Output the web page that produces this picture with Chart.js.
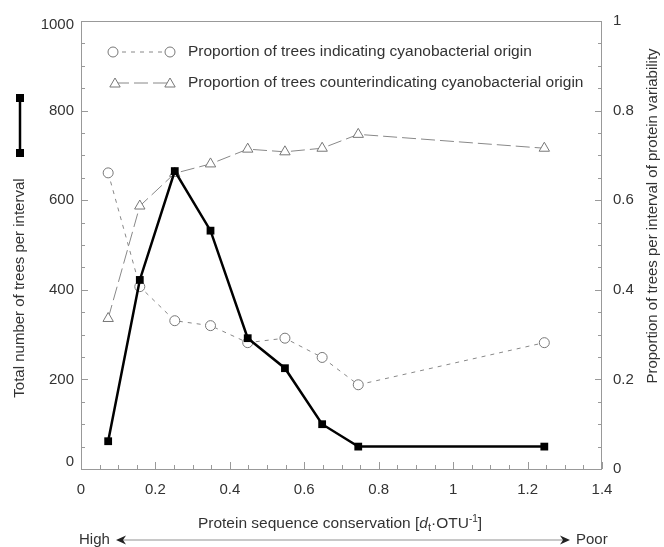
<!DOCTYPE html>
<html>
<head>
<meta charset="utf-8">
<script src="https://cdn.jsdelivr.net/npm/chart.js@4.4.0/dist/chart.umd.min.js"></script>
<style>
  html, body { margin: 0; padding: 0; background: #fff; }
</style>
</head>
<body>
<canvas id="trees_chart" width="664" height="547"></canvas>
<script>
// interval centres of protein variability (dt per OTU)
const intervalX = [0.073, 0.158, 0.252, 0.348, 0.448, 0.548, 0.648, 0.745, 1.245];
// total number of trees per interval (left axis)
const totalTrees = [62, 422, 665, 532, 292, 225, 100, 50, 50];
// proportions (right axis)
const propIndicating = [0.661, 0.407, 0.331, 0.320, 0.282, 0.292, 0.249, 0.188, 0.282];
const propCounter = [0.336, 0.587, 0.660, 0.681, 0.714, 0.708, 0.716, 0.747, 0.716];

const xTickLabels = ["0", "0.2", "0.4", "0.6", "0.8", "1", "1.2", "1.4"];
// 0 and 1000 on the left axis are nudged inward, drawn by the decor plugin
const leftTickLabels = ["200", "400", "600", "800"];
const leftEndLabels = ["0", "1000"];
const rightTickLabels = ["0", "0.2", "0.4", "0.6", "0.8", "1"];

const legendLabels = [
    "Proportion of trees indicating cyanobacterial origin",
    "Proportion of trees counterindicating cyanobacterial origin"
];

const FONT = "'Liberation Sans', Arial, Helvetica, sans-serif";
const TEXT = "#333";
const AXIS = "#999";

function pts(ys) {
    return intervalX.map((x, i) => ({ x: x, y: ys[i] }));
}

function pick(list) {
    return function (v) {
        const s = String(Math.round(v * 100) / 100);
        return list.indexOf(s) >= 0 ? s : "";
    };
}

function drawTri(ctx, x, y, r) {
    ctx.beginPath();
    ctx.moveTo(x, y - r);
    ctx.lineTo(x - r * 0.866, y + r * 0.5);
    ctx.lineTo(x + r * 0.866, y + r * 0.5);
    ctx.closePath();
    ctx.fill();
    ctx.stroke();
}

const decor = {
    id: "decor",
    afterDraw(chart) {
        const ctx = chart.ctx;
        const a = chart.chartArea;
        ctx.save();

        // frame
        ctx.strokeStyle = AXIS;
        ctx.lineWidth = 1;
        ctx.setLineDash([]);
        ctx.strokeRect(a.left + 0.5, a.top + 0.5, a.right - a.left - 1, a.bottom - a.top);

        // inward ticks
        const sx = chart.scales.x, sy = chart.scales.y, sy1 = chart.scales.y1;
        ctx.beginPath();
        sx.ticks.forEach(t => {
            const p = Math.round(sx.getPixelForValue(t.value)) + 0.5;
            const len = Math.round(t.value * 100) % 20 === 0 ? 7 : 4;
            ctx.moveTo(p, a.bottom);
            ctx.lineTo(p, a.bottom - len);
        });
        sy.ticks.forEach(t => {
            const p = Math.round(sy.getPixelForValue(t.value)) + 0.5;
            const len = t.value % 200 === 0 ? 7 : 4;
            ctx.moveTo(a.left, p);
            ctx.lineTo(a.left + len, p);
        });
        sy1.ticks.forEach(t => {
            const p = Math.round(sy1.getPixelForValue(t.value)) + 0.5;
            const len = Math.round(t.value * 100) % 20 === 0 ? 7 : 4;
            ctx.moveTo(a.right, p);
            ctx.lineTo(a.right - len, p);
        });
        ctx.stroke();

        // left axis end labels, pulled inside the axis range
        ctx.fillStyle = TEXT;
        ctx.font = "15px " + FONT;
        ctx.textAlign = "right";
        ctx.textBaseline = "middle";
        ctx.fillText(leftEndLabels[0], a.left - 7, sy.getPixelForValue(0) - 7);
        ctx.fillText(leftEndLabels[1], a.left - 7, sy.getPixelForValue(1000) + 4);

        // legend inside plot
        ctx.strokeStyle = "#888";
        ctx.fillStyle = "#fff";
        ctx.setLineDash([4, 5]);
        ctx.beginPath(); ctx.moveTo(113, 52); ctx.lineTo(170, 52); ctx.stroke();
        ctx.setLineDash([14, 5]);
        ctx.beginPath(); ctx.moveTo(115, 83); ctx.lineTo(170, 83); ctx.stroke();
        ctx.setLineDash([]);
        ctx.strokeStyle = "#777";
        [113, 170].forEach(x => {
            ctx.beginPath(); ctx.arc(x, 52, 5, 0, Math.PI * 2); ctx.fill(); ctx.stroke();
        });
        [115, 170].forEach(x => drawTri(ctx, x, 84, 6));

        ctx.fillStyle = TEXT;
        ctx.font = "15.5px " + FONT;
        ctx.textAlign = "left";
        ctx.fillText(legendLabels[0], 188, 52);
        ctx.fillText(legendLabels[1], 188, 83);

        // left series key (square - line - square)
        ctx.strokeStyle = "#000";
        ctx.lineWidth = 2.5;
        ctx.beginPath(); ctx.moveTo(20, 98); ctx.lineTo(20, 153); ctx.stroke();
        ctx.fillStyle = "#000";
        ctx.fillRect(16, 94, 8, 8);
        ctx.fillRect(16, 149, 8, 8);

        // axis titles
        ctx.fillStyle = TEXT;
        ctx.font = "15px " + FONT;
        ctx.textAlign = "center";
        ctx.save();
        ctx.translate(20, 288);
        ctx.rotate(-Math.PI / 2);
        ctx.fillText("Total number of trees per interval", 0, 0);
        ctx.restore();
        ctx.save();
        ctx.translate(653, 216);
        ctx.rotate(-Math.PI / 2);
        ctx.fillText("Proportion of trees per interval of protein variability", 0, 0);
        ctx.restore();

        // x title with italic d, subscript t, superscript -1
        ctx.textAlign = "left";
        ctx.textBaseline = "alphabetic";
        const parts = [
            ["Protein sequence conservation [", "15.5px " + FONT, 0],
            ["d", "italic 15.5px " + FONT, 0],
            ["t", "11px " + FONT, 3],
            ["\u00B7OTU", "15.5px " + FONT, 0],
            ["-1", "10px " + FONT, -6],
            ["]", "15.5px " + FONT, 0]
        ];
        let w = 0;
        parts.forEach(p => { ctx.font = p[1]; w += ctx.measureText(p[0]).width; });
        let cx = 340 - w / 2;
        parts.forEach(p => {
            ctx.font = p[1];
            ctx.fillText(p[0], cx, 528 + p[2]);
            cx += ctx.measureText(p[0]).width;
        });

        // High <----> Poor
        ctx.font = "15px " + FONT;
        ctx.textBaseline = "middle";
        ctx.fillText("High", 79, 540);
        ctx.fillText("Poor", 576, 540);
        ctx.strokeStyle = "#c8c8c8";
        ctx.lineWidth = 2;
        ctx.beginPath(); ctx.moveTo(122, 540); ctx.lineTo(564, 540); ctx.stroke();
        ctx.fillStyle = "#222";
        ctx.beginPath();
        ctx.moveTo(116, 540); ctx.lineTo(126, 535.5); ctx.lineTo(123, 540); ctx.lineTo(126, 544.5);
        ctx.closePath(); ctx.fill();
        ctx.beginPath();
        ctx.moveTo(570, 540); ctx.lineTo(560, 535.5); ctx.lineTo(563, 540); ctx.lineTo(560, 544.5);
        ctx.closePath(); ctx.fill();

        ctx.restore();
    }
};

const tickFont = { family: FONT, size: 15 };

const ctx = document.getElementById("trees_chart").getContext("2d");

const myChart = new Chart(ctx, {
    type: "line",
    data: {
        datasets: [
            {
                label: "Total number of trees per interval",
                data: pts(totalTrees),
                yAxisID: "y",
                borderColor: "#000",
                borderWidth: 2.5,
                pointStyle: "rect",
                pointRadius: 5.5,
                pointBackgroundColor: "#000",
                pointBorderColor: "#000",
                pointBorderWidth: 0,
                tension: 0
            },
            {
                label: legendLabels[0],
                data: pts(propIndicating),
                yAxisID: "y1",
                borderColor: "#888",
                borderWidth: 1,
                borderDash: [4, 5],
                pointStyle: "circle",
                pointRadius: 5,
                pointBackgroundColor: "#fff",
                pointBorderColor: "#777",
                pointBorderWidth: 1,
                tension: 0
            },
            {
                label: legendLabels[1],
                data: pts(propCounter),
                yAxisID: "y1",
                borderColor: "#888",
                borderWidth: 1,
                borderDash: [14, 5],
                pointStyle: "triangle",
                pointRadius: 6,
                pointBackgroundColor: "#fff",
                pointBorderColor: "#777",
                pointBorderWidth: 1,
                tension: 0
            }
        ]
    },
    options: {
        responsive: false,
        animation: false,
        devicePixelRatio: 1,
        layout: { padding: { top: 21, left: 0, right: 0, bottom: 0 } },
        plugins: { legend: { display: false }, tooltip: { enabled: false } },
        scales: {
            x: {
                type: "linear",
                min: 0,
                max: 1.4,
                border: { display: false },
                grid: { display: false, drawTicks: false },
                ticks: {
                    stepSize: 0.05,
                    autoSkip: false,
                    maxRotation: 0,
                    padding: 12,
                    color: TEXT,
                    font: tickFont,
                    callback: pick(xTickLabels)
                },
                afterFit(s) { s.height = 78; }
            },
            y: {
                position: "left",
                min: 0,
                max: 1000,
                border: { display: false },
                grid: { display: false, drawTicks: false },
                ticks: {
                    stepSize: 50,
                    autoSkip: false,
                    padding: 7,
                    color: TEXT,
                    font: tickFont,
                    callback: pick(leftTickLabels)
                },
                afterFit(s) { s.width = 81; }
            },
            y1: {
                position: "right",
                min: 0,
                max: 1,
                border: { display: false },
                grid: { display: false, drawTicks: false },
                ticks: {
                    stepSize: 0.05,
                    autoSkip: false,
                    padding: 11,
                    color: TEXT,
                    font: tickFont,
                    callback: pick(rightTickLabels)
                },
                afterFit(s) { s.width = 62; }
            }
        }
    },
    plugins: [decor]
});
</script>
</body>
</html>
